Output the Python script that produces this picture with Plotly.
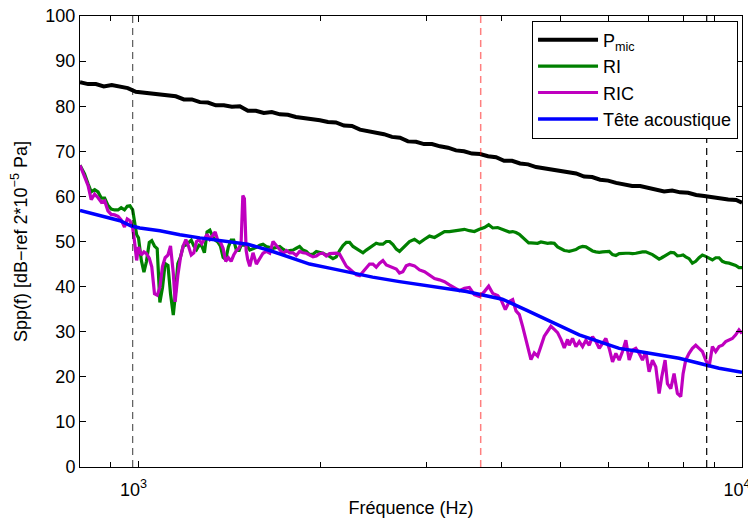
import plotly.graph_objects as go
import math

# ---------------- data ----------------
freq_pmic = [800, 825, 850, 876, 903, 931, 960, 990, 1020, 1052, 1085, 1118, 1153, 1189, 1226, 1264,
             1303, 1343, 1385, 1428, 1472, 1518, 1565, 1613, 1663, 1715, 1768, 1823, 1880, 1938, 1998,
             2060, 2124, 2190, 2258, 2328, 2400, 2474, 2551, 2630, 2712, 2796, 2883, 2972, 3064, 3159,
             3257, 3358, 3462, 3570, 3680, 3795, 3912, 4034, 4159, 4288, 4421, 4558, 4699, 4845, 4995,
             5150, 5310, 5475, 5645, 5820, 6000, 6186, 6378, 6576, 6780, 6990, 7207, 7430, 7661, 7898,
             8143, 8396, 8656, 8925, 9201, 9487, 9781, 10000]
pmic = [85.3, 84.9, 84.9, 84.4, 84.7, 84.3, 84.0, 83.2, 83.0, 82.7, 82.6, 82.2, 82.2, 81.5, 81.5, 80.9,
        80.8, 80.2, 80.2, 79.9, 80.0, 79.0, 79.0, 78.5, 78.7, 78.2, 78.1, 77.6, 77.4, 77.0, 76.9,
        76.5, 76.4, 75.7, 75.6, 74.8, 74.5, 74.0, 73.8, 73.2, 73.0, 72.2, 72.1, 71.6, 71.6, 71.1,
        70.8, 70.2, 70.0, 69.5, 69.4, 68.9, 68.7, 67.9, 67.9, 67.3, 67.1, 66.5, 66.2, 65.8, 65.6,
        65.2, 65.1, 64.4, 64.3, 63.7, 63.5, 63.0, 62.7, 62.3, 62.3, 61.9, 61.7, 61.1, 61.3, 60.9,
        60.8, 60.3, 60.1, 59.8, 59.7, 59.3, 59.2, 58.6]

freq_bands = [800, 814, 825, 835, 846, 857, 868, 879, 890, 901, 913, 925, 936, 948, 958, 968, 978, 985,
              993, 1000, 1011, 1021, 1031, 1042, 1052, 1063, 1074, 1085, 1096, 1107, 1119, 1130, 1142,
              1150, 1162, 1174, 1186, 1198, 1210, 1223, 1235, 1248, 1260, 1273, 1286, 1299, 1313, 1326,
              1340, 1353, 1367, 1381, 1395, 1409, 1424, 1438, 1453, 1468, 1479, 1489, 1498, 1508, 1517,
              1529, 1548, 1568, 1588, 1608, 1629, 1650, 1671, 1692, 1714, 1736, 1758, 1780, 1803, 1826,
              1849, 1873, 1897, 1921, 1946, 1971, 1996, 2021, 2047, 2073, 2100, 2127, 2154, 2182, 2210,
              2238, 2267, 2296, 2325, 2355, 2385, 2415, 2446, 2477, 2509, 2541, 2574, 2607, 2640, 2674,
              2707, 2742, 2777, 2812,
              2866, 2922, 2978, 3035, 3094, 3153, 3214, 3275, 3338, 3402, 3468, 3534, 3602, 3671, 3742,
              3804, 3863, 3937, 3987, 4054, 4116, 4169, 4222, 4276, 4330, 4386, 4431, 4470, 4527, 4585,
              4644, 4703, 4763, 4824, 4886, 4948, 5012, 5076, 5140,
              5172, 5239, 5306, 5374, 5443, 5512, 5583, 5654, 5727, 5800, 5874, 5949, 6025, 6102, 6180,
              6259, 6339, 6420, 6502, 6585, 6669, 6754, 6841, 6928, 7016, 7106, 7197, 7289, 7363, 7457,
              7524, 7620, 7717, 7816, 7916, 7987, 8068, 8171, 8276, 8382, 8489, 8597, 8708, 8819, 8932,
              9045, 9161, 9278, 9397, 9517, 9638, 9762, 9886, 10000]

ri = [66.9, 65.0, 62.8, 61.0, 61.5, 61.0, 59.6, 59.6, 58.0, 57.2, 57.0, 57.0, 57.5, 57.0, 57.8, 57.9,
      57.0, 54.3, 51.5, 50.8, 45.8, 43.2, 45.6, 49.8, 50.2, 49.0, 48.4, 36.5, 39.8, 45.1, 44.7, 38.4,
      33.7, 37.7, 45.1, 46.6, 49.0, 49.2, 49.8, 50.3, 49.0, 48.2, 49.2, 49.0, 47.5, 52.1, 52.5, 51.2,
      50.3, 49.9, 49.0, 46.5, 46.0, 48.8, 50.3, 50.3, 48.0, 48.0, 49.2, 49.2, 49.2, 49.0, 48.8,
      48.1, 48.4, 48.7, 49.2, 49.4, 48.9, 48.7, 48.5, 48.7, 48.9, 48.3, 47.8, 48.0, 48.1, 48.5, 48.9,
      48.1, 47.8, 47.1, 47.2, 47.8, 47.6, 47.4, 47.0, 46.7, 46.2, 46.6, 48.0, 49.1, 49.8, 49.8, 48.9,
      48.4, 47.9, 47.5, 48.1, 48.6, 49.2, 49.6, 49.4, 49.4, 50.0, 50.0, 49.3, 48.3, 47.8, 48.6, 49.2,
      50.0,
      50.5, 49.7, 50.5, 51.2, 50.9, 51.5, 52.2, 52.2, 52.4, 52.6, 52.7, 52.4, 52.2, 52.7, 53.1, 53.7,
      53.0, 53.1, 52.8, 52.3, 52.1, 52.2, 52.0, 51.6, 50.9, 50.1, 49.7, 49.7, 49.7, 49.6, 49.9, 49.8,
      49.6, 49.7, 49.6, 48.8, 48.3, 48.0, 47.9,
      47.8, 48.0, 48.2, 48.7, 48.9, 48.8, 48.3, 47.9, 47.7, 47.6, 47.7, 47.8, 47.8, 47.1, 46.9, 47.3,
      47.4, 47.4, 47.4, 47.3, 47.4, 47.6, 47.7, 47.7, 47.4, 47.1, 46.6, 46.1, 46.4, 46.8, 47.2, 47.6,
      47.5, 46.8, 46.9, 47.0, 46.6, 46.2, 45.2, 45.6, 46.4, 47.0, 46.7, 46.3, 45.9, 46.4, 46.4, 45.6,
      45.3, 45.2, 45.0, 44.7, 44.2, 44.2]

ric = [66.9, 64.6, 62.4, 59.3, 60.5, 59.7, 58.7, 59.0, 56.8, 56.0, 55.9, 55.6, 54.8, 53.2, 55.0, 54.6,
       53.0, 50.0, 45.8, 48.8, 47.0, 47.7, 47.3, 46.3, 44.4, 38.4, 38.1, 39.8, 44.5, 46.4, 47.0, 49.0,
       43.0, 36.6, 42.5, 46.5, 49.0, 50.4, 49.0, 47.0, 47.5, 50.0, 50.4, 49.5, 50.5, 51.6, 50.5, 51.3,
       52.1, 50.3, 49.9, 48.5, 45.6, 46.4, 45.6, 47.0, 48.0, 48.6, 49.5, 60.2, 59.5, 48.0, 46.0,
       44.5, 47.5, 45.0, 46.3, 47.4, 47.8, 47.4, 50.0, 49.1, 48.3, 47.3, 48.0, 47.5, 47.5, 46.9, 47.8,
       47.5, 47.4, 47.0, 46.6, 46.8, 47.3, 47.4, 46.8, 47.3, 47.4, 47.4, 47.2, 45.8, 44.5, 43.9, 43.3,
       42.6, 42.4, 43.2, 44.1, 45.0, 45.0, 44.3, 45.2, 45.8, 44.8, 44.5, 44.3, 43.9, 43.0, 43.3, 44.6,
       44.9,
       44.6, 43.7, 43.3, 42.6, 41.8, 41.5, 41.1, 40.4, 39.8, 39.1, 39.6, 39.8, 38.2, 37.8, 38.9, 40.1,
       38.5, 38.0, 37.1, 34.9, 36.7, 37.1, 34.6, 33.8, 31.2, 28.3, 25.3, 23.8, 25.3, 24.6, 26.8, 29.0,
       30.1, 31.2, 30.5, 29.8, 28.3, 26.4, 28.3,
       27.0, 28.5, 26.7, 27.8, 26.7, 28.1, 27.0, 28.9, 27.8, 26.3, 27.4, 28.5, 26.3, 23.3, 25.2, 23.7,
       25.6, 28.1, 23.7, 25.9, 26.3, 25.2, 23.7, 25.6, 21.1, 23.7, 22.2, 16.3, 20.0, 23.7, 18.5, 17.4,
       20.7, 16.3, 15.6, 20.7, 23.7, 25.2, 26.3, 27.0, 26.3, 25.6, 23.7, 22.2, 26.7, 25.6, 26.7, 27.0,
       27.8, 28.1, 28.5, 29.3, 30.4, 29.6]

freq_tete = [800, 863, 932, 971, 1005, 1085, 1171, 1264, 1364, 1517, 1650, 1780, 1921, 2073, 2238,
             2443, 2707, 3070, 3494, 3700, 4008, 4392, 4980, 5374, 5800, 6259, 6754, 7289, 7866,
             8489, 9161, 10000]
tete = [56.9, 55.8, 54.6, 53.5, 53.0, 52.4, 51.5, 50.8, 50.2, 49.4, 48.0, 46.5, 45.0, 44.1, 43.1,
        42.1, 41.1, 40.1, 38.9, 38.2, 37.2, 34.8, 31.3, 29.3, 27.8, 26.3, 25.6, 24.8, 24.1,
        23.0, 21.9, 21.0]

vline_black = [978, 8740]
vline_red = 3690
y_span = [0, 100]

x_major = [1000, 10000]
x_major_text = ["10<sup>3</sup>", "10<sup>4</sup>"]
x_minor = [900, 2000, 3000, 4000, 5000, 6000, 7000, 8000, 9000]
y_ticks = list(range(0, 101, 10))

# ---------------- figure ----------------
FONT = "Liberation Sans, Arial, Helvetica, sans-serif"
fig = go.Figure()

fig.add_trace(go.Scatter(x=freq_pmic, y=pmic, mode="lines", name="P<sub>mic</sub>",
                         line=dict(color="black", width=4)))
fig.add_trace(go.Scatter(x=freq_bands, y=ri, mode="lines", name="RI",
                         line=dict(color="#008000", width=3.2)))
fig.add_trace(go.Scatter(x=freq_bands, y=ric, mode="lines", name="RIC",
                         line=dict(color="#bf00bf", width=3.2)))
fig.add_trace(go.Scatter(x=freq_tete, y=tete, mode="lines", name="Tête acoustique",
                         line=dict(color="#0000ff", width=3.5)))

for i, f in enumerate(vline_black):
    fig.add_trace(go.Scatter(x=[f, f], y=y_span, mode="lines", showlegend=False, hoverinfo="skip",
                             line=dict(color="rgba(0,0,0,0.65)" if i == 0 else "black",
                                       width=1.2, dash="7px,5px")))
fig.add_trace(go.Scatter(x=[vline_red, vline_red], y=y_span, mode="lines", showlegend=False,
                         hoverinfo="skip",
                         line=dict(color="rgba(255,0,0,0.5)", width=1.5, dash="7px,5px")))

# the page body has an 8px margin: figure is sized/margined so the plot area lands on the reference
fig.update_layout(
    width=748, height=515,
    margin=dict(l=72, r=14, t=8, b=56, autoexpand=False),
    paper_bgcolor="white", plot_bgcolor="white",
    font=dict(family=FONT, size=18, color="black"),
    showlegend=True,
    legend=dict(x=0.994, y=0.99, xanchor="right", yanchor="top",
                bgcolor="white", bordercolor="black", borderwidth=1,
                font=dict(family=FONT, size=18, color="black"),
                tracegroupgap=0, itemwidth=60),
)
fig.update_xaxes(
    type="log", range=[math.log10(800), 4], automargin=False,
    showgrid=False, zeroline=False,
    showline=True, linecolor="black", linewidth=1, mirror="ticks",
    ticks="inside", ticklen=6, tickcolor="black",
    tickmode="array", tickvals=x_major, ticktext=x_major_text,
    minor=dict(ticks="inside", ticklen=5, tickcolor="black", tickmode="array", tickvals=x_minor),
    tickfont=dict(family=FONT, size=18), ticklabeloverflow="allow", ticklabelstandoff=6,
    ticklabelshift=-5,
    title=dict(text="Fréquence (Hz)", font=dict(family=FONT, size=18), standoff=2),
)
fig.update_yaxes(
    range=[0, 100], automargin=False,
    showgrid=False, zeroline=False,
    showline=True, linecolor="black", linewidth=1, mirror="ticks",
    ticks="inside", ticklen=6, tickcolor="black",
    tickmode="array", tickvals=y_ticks,
    tickfont=dict(family=FONT, size=18), ticklabeloverflow="allow",
    title=dict(text="Spp(f) [dB−ref 2*10<sup>−5</sup> Pa]", font=dict(family=FONT, size=18), standoff=24),
)

fig.write_html("out.html")
